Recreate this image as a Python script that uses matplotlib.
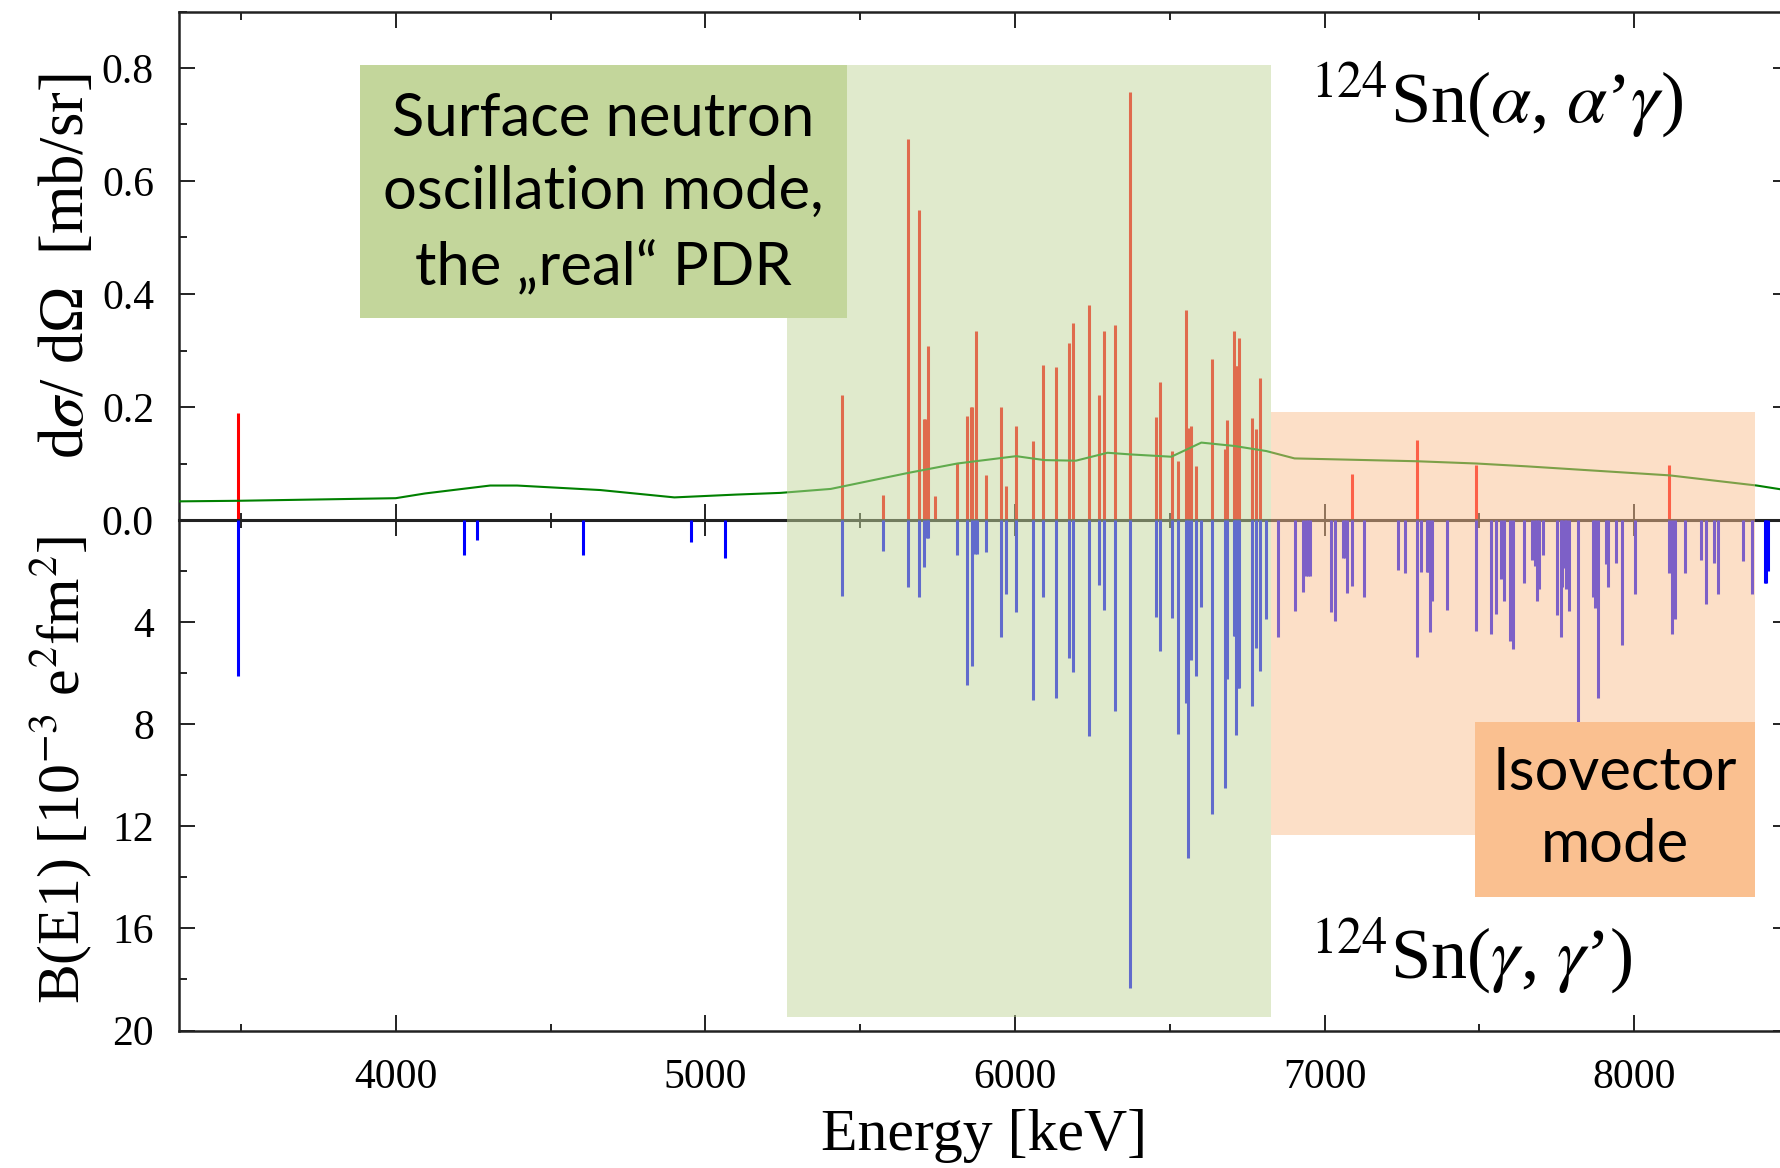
import matplotlib
matplotlib.use("Agg")
import matplotlib.pyplot as plt
from matplotlib.ticker import MultipleLocator, FuncFormatter
from matplotlib.patches import Rectangle

# ---------------- data ----------------
alpha_energy = [3491, 5440, 5573, 5656, 5689, 5705, 5711, 5719, 5743, 5814, 5845, 5858, 5862,
                5873, 5905, 5954, 5972, 6004, 6057, 6091, 6131, 6174, 6187, 6239, 6270, 6289,
                6324, 6371, 6455, 6470, 6506, 6527, 6551, 6558, 6569, 6586, 6638, 6679, 6686,
                6708, 6712, 6715, 6720, 6725, 6766, 6777, 6793, 7090, 7299, 7489, 8114]
alpha_xsec = [0.190, 0.222, 0.045, 0.675, 0.548, 0.179, 0.179, 0.308, 0.043, 0.101, 0.184, 0.200, 0.200,
              0.334, 0.079, 0.200, 0.061, 0.166, 0.139, 0.275, 0.270, 0.313, 0.349, 0.381, 0.222, 0.334,
              0.345, 0.757, 0.182, 0.245, 0.122, 0.104, 0.371, 0.163, 0.167, 0.096, 0.285, 0.126, 0.177,
              0.335, 0.272, 0.272, 0.272, 0.323, 0.180, 0.161, 0.252, 0.081, 0.142, 0.098, 0.098]

gamma_energy = [3491, 4220, 4264, 4605, 4954, 5064, 5440, 5573, 5656, 5689, 5705, 5715, 5719, 5814,
                5845, 5860, 5870, 5876, 5905, 5954, 5972, 6004, 6057, 6091, 6131, 6174, 6187, 6239,
                6270, 6289, 6324, 6371, 6455, 6470, 6506, 6527, 6551, 6558, 6569, 6586, 6602, 6638,
                6679, 6686, 6708, 6712, 6715, 6720, 6725, 6766, 6777, 6793, 6811, 6849, 6904, 6930,
                6940, 6946, 6952, 7020, 7034, 7060, 7065, 7074, 7090, 7127, 7236, 7261, 7299, 7312,
                7330, 7335, 7340, 7347, 7397, 7490, 7539, 7553, 7569, 7579, 7599, 7607, 7645, 7669,
                7680, 7686, 7693, 7704, 7751, 7762, 7768, 7775, 7781, 7790, 7817, 7866, 7875, 7883,
                7908, 7916, 7941, 7960, 8002, 8114, 8121, 8133, 8164, 8216, 8231, 8258, 8272, 8351,
                8379, 8421, 8427, 8433]
gamma_be1 = [6.10, 1.37, 0.78, 1.37, 0.85, 1.48, 2.98, 1.20, 2.64, 3.03, 1.83, 0.71, 0.71, 1.36,
             6.46, 5.73, 1.33, 1.33, 1.25, 4.57, 2.88, 3.61, 7.06, 3.03, 6.99, 5.39, 5.96, 8.46,
             2.55, 3.53, 7.48, 18.33, 3.79, 5.12, 3.83, 8.39, 7.16, 13.23, 5.49, 6.12, 3.40, 11.53,
             10.48, 6.21, 4.55, 4.55, 8.41, 6.60, 6.60, 7.29, 5.03, 5.90, 3.88, 4.60, 3.57, 2.81,
             2.20, 2.20, 2.20, 3.60, 3.95, 1.50, 1.50, 2.85, 2.58, 3.02, 1.95, 2.08, 5.36, 2.03,
             2.03, 2.03, 4.38, 3.18, 3.52, 4.35, 4.45, 3.70, 2.31, 3.19, 4.73, 5.06, 2.46, 1.58,
             1.79, 3.18, 2.72, 1.39, 3.73, 4.60, 2.61, 1.90, 2.70, 3.57, 7.91, 3.03, 3.46, 6.97,
             1.74, 2.61, 1.67, 4.90, 2.88, 2.07, 4.48, 3.86, 2.09, 1.57, 3.29, 1.67, 2.90, 1.60,
             2.90, 2.45, 2.45, 2.00]

curve_energy = [3300, 3490, 4000, 4095, 4305, 4392, 4661, 4900, 5100, 5243, 5405, 5652, 5814, 6004,
                6095, 6197, 6299, 6375, 6505, 6602, 6709, 6812, 6903, 7297, 7490, 7652, 8114, 8396, 8500]
curve_xsec = [0.033, 0.034, 0.0386, 0.047, 0.061, 0.061, 0.053, 0.040, 0.045, 0.048, 0.055, 0.083, 0.100,
              0.113, 0.106, 0.105, 0.119, 0.116, 0.112, 0.137, 0.131, 0.122, 0.109, 0.104, 0.100, 0.095,
              0.079, 0.061, 0.052]

upper_ticks = [0.0, 0.2, 0.4, 0.6, 0.8]
lower_ticks = [4, 8, 12, 16, 20]
x_ticks = [4000, 5000, 6000, 7000, 8000]

# ---------------- style ----------------
plt.rcParams['font.family'] = ['Liberation Serif', 'DejaVu Serif']
plt.rcParams['mathtext.fontset'] = 'stix'

W, H = 1781, 1168
fig = plt.figure(figsize=(W / 100, H / 100), dpi=100)


def fx(px):
    return px / W


def fy(py):
    return 1 - py / H


L, R, T, Z, B = 179, 1789, 11.5, 520, 1030.5
ax_top = fig.add_axes([fx(L), fy(Z), (R - L) / W, (Z - T) / H])
ax_bot = fig.add_axes([fx(L), fy(B), (R - L) / W, (B - Z) / H], sharex=ax_top)
ax_bot.patch.set_facecolor('none')

bar_lw = 2.2
ax_top.vlines(alpha_energy, 0, alpha_xsec, colors='#ff0000', lw=bar_lw, zorder=2)
ax_top.plot(curve_energy, curve_xsec, color='#008000', lw=1.5, zorder=3)
ax_bot.vlines(gamma_energy, 0, gamma_be1, colors='#0000ff', lw=bar_lw, zorder=2)

ax_top.set_xlim(3300, 8500)
ax_top.set_ylim(0, 0.9)
ax_bot.set_ylim(20, 0)

for ax in (ax_top, ax_bot):
    ax.xaxis.set_major_locator(MultipleLocator(1000))
    ax.xaxis.set_minor_locator(MultipleLocator(500))
    ax.tick_params(which='both', direction='in', top=True, right=True, width=1.4, color='#222222')
    ax.tick_params(which='major', length=11.5)
    ax.tick_params(which='minor', length=5.4)
    ax.tick_params(axis='both', labelsize=30)
    for s in ax.spines.values():
        s.set_linewidth(1.8)
        s.set_color('#222222')

ax_top.yaxis.set_major_locator(MultipleLocator(0.2))
ax_top.yaxis.set_minor_locator(MultipleLocator(0.1))
ax_top.set_yticks(upper_ticks)
ax_top.yaxis.set_major_formatter(FuncFormatter(lambda v, p: f"{v:.1f}"))
ax_top.tick_params(axis='x', labelbottom=False)
ax_top.tick_params(axis='y', pad=18)
ax_top.spines['bottom'].set_linewidth(2.2)

ax_bot.yaxis.set_major_locator(MultipleLocator(4))
ax_bot.yaxis.set_minor_locator(MultipleLocator(2))
ax_bot.yaxis.set_major_formatter(FuncFormatter(lambda v, p: "" if abs(v) < 1e-9 else f"{v:.0f}"))
ax_bot.spines['top'].set_visible(False)
ax_bot.tick_params(axis='y', pad=18)
ax_bot.tick_params(axis='x', pad=20)
ax_bot.set_xticks(x_ticks)

# axis labels
fig.text(fx(68), fy(266), r"d$\sigma$/ dΩ  [mb/sr]", rotation=90, ha='center', va='center', fontsize=45)
fig.text(fx(60), fy(770), r"B(E1) [10$^{-3}$ e$^{2}$fm$^{2}$]", rotation=90, ha='center', va='center', fontsize=43)
fig.text(fx(984), fy(1136), "Energy [keV]", ha='center', va='center', fontsize=43)

# reaction labels
fig.text(fx(1310), fy(123), r"$^{124}$Sn($\alpha$, $\alpha$’$\gamma$)", ha='left', va='baseline', fontsize=52)
fig.text(fx(1310), fy(979), r"$^{124}$Sn($\gamma$, $\gamma$’)", ha='left', va='baseline', fontsize=52)

# overlays (semi-transparent regions)
green = '#c3d69b'
orange = '#fac090'


def rect(x0, y0, x1, y1, color, alpha, z):
    fig.add_artist(Rectangle((fx(x0), fy(y1)), (x1 - x0) / W, (y1 - y0) / H,
                             transform=fig.transFigure, facecolor=color, edgecolor='none',
                             alpha=alpha, zorder=z))


rect(787, 65, 1271, 1017, green, 0.5, 5)
rect(1271, 412, 1755, 835, orange, 0.5, 5)
rect(360, 65, 847, 318, green, 1.0, 6)
rect(1475, 722, 1755, 897, orange, 1.0, 6)

fig.text(fx(603.5), fy(193), "Surface neutron\noscillation mode,\nthe „real“ PDR", ha='center', va='center',
         fontsize=43, family=['Lato', 'DejaVu Sans'], linespacing=1.43, zorder=7)
fig.text(fx(1615), fy(809), "Isovector\nmode", ha='center', va='center',
         fontsize=43, family=['Lato', 'DejaVu Sans'], linespacing=1.4, zorder=7)

fig.savefig("out.png", dpi=100)
